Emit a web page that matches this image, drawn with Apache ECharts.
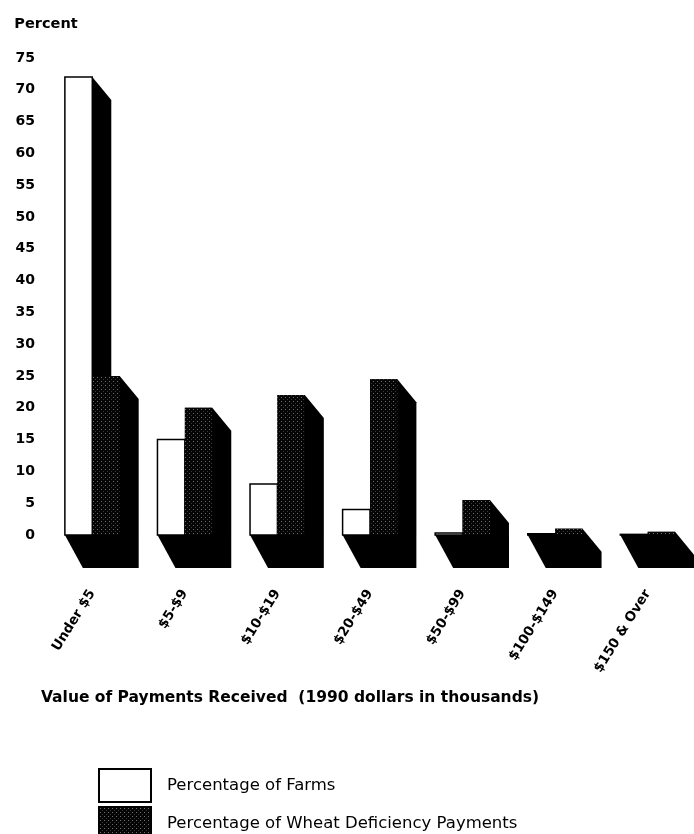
<!DOCTYPE html>
<html>
<head>
<meta charset="utf-8">
<style>
  html, body { margin: 0; padding: 0; background: #fff; }
  #chart { width: 694px; height: 834px; }
</style>
<script src="https://cdn.jsdelivr.net/npm/echarts@6/dist/echarts.min.js"></script>
</head>
<body>
<div id="chart"></div>
<script>
// Payment classes (1990 dollars in thousands)
const categories = ['Under $5', '$5-$9', '$10-$19', '$20-$49', '$50-$99', '$100-$149', '$150 & Over'];
// Share of farms in each payment class, percent
const farmsPct = [72, 15, 8, 4, 0.3, 0.2, 0.1];
// Share of wheat deficiency payments in each class, percent
const paymentsPct = [25, 20, 22, 24.5, 5.5, 1, 0.5];
// Value-axis ticks
const yMin = 0, yMax = 75, yStep = 5;

const seriesNames = ['Percentage of Farms', 'Percentage of Wheat Deficiency Payments'];

// Stippled dark fill used for the payments bars
function stipple() {
  const c = document.createElement('canvas');
  c.width = 4; c.height = 4;
  const g = c.getContext('2d');
  g.fillStyle = '#050505';
  g.fillRect(0, 0, 4, 4);
  g.fillStyle = '#707070';
  g.fillRect(1, 1, 1, 1);
  g.fillStyle = '#3a3a3a';
  g.fillRect(3, 3, 1, 1);
  return c;
}
const stippleFill = { image: stipple(), repeat: 'repeat' };

// Extrusion of each column (drawn toward the lower right)
const BAR_FRACTION = 0.296;
const DX_TOP = 19, DY_TOP = 23;
const DX_FLOOR = 18, DY_FLOOR = 33;

function column(slot, faceStyle) {
  return function (params, api) {
    const cat = api.value(0);
    const v = api.value(1);
    const topPt = api.coord([cat, v]);
    const basePt = api.coord([cat, 0]);
    const band = api.size([1, 0])[0];
    const w = band * BAR_FRACTION;
    const x0 = topPt[0] - w + slot * w;
    const x1 = x0 + w;
    const yT = topPt[1];
    const yB = basePt[1];
    return {
      type: 'group',
      children: [
        {
          type: 'polygon',
          shape: {
            points: [
              [x0, yT], [x1, yT],
              [x1 + DX_TOP, yT + DY_TOP],
              [x1 + DX_TOP, yB + DY_FLOOR],
              [x0 + DX_FLOOR, yB + DY_FLOOR],
              [x0, yB]
            ]
          },
          style: { fill: '#000' }
        },
        {
          type: 'rect',
          shape: { x: x0, y: yT, width: w, height: yB - yT },
          style: faceStyle
        }
      ]
    };
  };
}

const chart = echarts.init(document.getElementById('chart'), null, { renderer: 'canvas' });

chart.setOption({
  backgroundColor: '#fff',
  animation: false,
  grid: { left: 46, top: 58, width: 651, bottom: 299, containLabel: false },
  legend: {
    orient: 'vertical',
    left: 98,
    top: 768,
    height: 120,
    padding: 0,
    icon: 'rect',
    itemWidth: 52,
    itemHeight: 33,
    itemGap: 3,
    selectedMode: false,
    textStyle: {
      fontFamily: 'DejaVu Sans',
      fontSize: 16.5,
      color: '#000',
      padding: [0, 0, 0, 11]
    },
    data: seriesNames
  },
  xAxis: {
    type: 'category',
    data: categories,
    name: 'Value of Payments Received  (1990 dollars in thousands)',
    nameLocation: 'middle',
    nameGap: 155,
    nameTextStyle: {
      fontFamily: 'DejaVu Sans',
      fontWeight: 'bold',
      fontSize: 15.5,
      color: '#000',
      padding: [0, 160, 0, 0]
    },
    axisLine: { show: false },
    axisTick: { show: false },
    axisLabel: {
      interval: 0,
      rotate: 58,
      margin: 56,
      fontFamily: 'DejaVu Sans',
      fontWeight: 'bold',
      fontSize: 13.5,
      color: '#000'
    }
  },
  yAxis: {
    type: 'value',
    min: yMin,
    max: yMax,
    interval: yStep,
    name: 'Percent',
    nameLocation: 'end',
    nameGap: 26,
    nameTextStyle: {
      fontFamily: 'DejaVu Sans',
      fontWeight: 'bold',
      fontSize: 14.5,
      color: '#000',
      align: 'center'
    },
    axisLine: { show: false },
    axisTick: { show: false },
    splitLine: { show: false },
    axisLabel: {
      margin: 11,
      fontFamily: 'DejaVu Sans',
      fontWeight: 'bold',
      fontSize: 14,
      color: '#000'
    }
  },
  series: [
    {
      name: seriesNames[0],
      type: 'custom',
      itemStyle: { color: '#fff', borderColor: '#000', borderWidth: 1.5 },
      renderItem: column(0, { fill: '#fff', stroke: '#000', lineWidth: 1.5 }),
      encode: { x: 0, y: 1 },
      data: categories.map((c, i) => [i, farmsPct[i]])
    },
    {
      name: seriesNames[1],
      type: 'custom',
      itemStyle: { color: stippleFill, borderColor: '#000', borderWidth: 1 },
      renderItem: column(1, { fill: stippleFill }),
      encode: { x: 0, y: 1 },
      data: categories.map((c, i) => [i, paymentsPct[i]])
    }
  ]
});
</script>
</body>
</html>
